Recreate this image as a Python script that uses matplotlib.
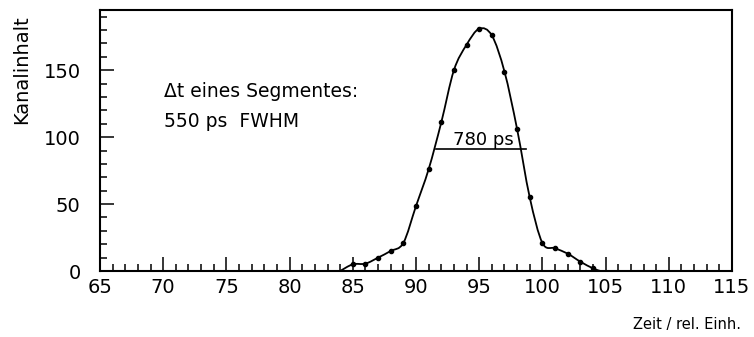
import numpy as np
import matplotlib
matplotlib.use('Agg')
import matplotlib.pyplot as plt
from matplotlib.path import Path
from matplotlib.patches import PathPatch

# Messpunkte (Zeit / Kanalinhalt)
zeit = [85, 86, 87, 88, 89, 90, 91, 92, 93, 94, 95, 96, 97, 98, 99, 100, 101, 102, 103, 104]
inhalt = [5, 5.5, 10, 15, 21, 48.5, 76, 111, 150, 169, 181, 176, 149, 106, 55, 21, 17, 13, 7, 2]

# Anfang und Ende der Kurve auf der Nulllinie
kurve_start = (84.0, 0.0)
kurve_ende = (104.6, 0.0)

# FWHM-Markierung
fwhm_x = [91.6, 98.7]
fwhm_y = 91

plt.rcParams['font.family'] = ['DejaVu Sans']

fig = plt.figure(figsize=(7.54, 3.37), dpi=100)
ax = fig.add_axes([0.1326, 0.1958, 0.9708 - 0.1326, 0.9703 - 0.1958])

# glatte Kurve durch die Punkte (Catmull-Rom als Bezier-Pfad)
px = np.array([kurve_start[0]] + zeit + [kurve_ende[0]])
py = np.array([kurve_start[1]] + inhalt + [kurve_ende[1]])
pts = np.column_stack([px, py])
ext = np.vstack([pts[0], pts, pts[-1]])
verts = [tuple(pts[0])]
codes = [Path.MOVETO]
for i in range(1, len(ext) - 2):
    p0, p1, p2, p3 = ext[i - 1], ext[i], ext[i + 1], ext[i + 2]
    c1 = p1 + (p2 - p0) / 6.0
    c2 = p2 - (p3 - p1) / 6.0
    verts += [tuple(c1), tuple(c2), tuple(p2)]
    codes += [Path.CURVE4] * 3
ax.add_patch(PathPatch(Path(verts, codes), fill=False, lw=1.3, color='black'))

ax.plot(zeit, inhalt, 'o', color='black', ms=3)

ax.plot(fwhm_x, [fwhm_y, fwhm_y], color='black', lw=1.2)
ax.text(95.3, fwhm_y + 0.5, '780 ps', ha='center', va='bottom', fontsize=13)

ax.text(70.1, 133.8, 'Δt eines Segmentes:', ha='left', va='center', fontsize=13.5)
ax.text(70.1, 112, '550 ps  FWHM', ha='left', va='center', fontsize=13.5)

ax.set_xlim(65, 115)
ax.set_ylim(0, 195)
ax.set_xticks(np.arange(65, 116, 5))
ax.set_xticks(np.arange(65, 116, 1), minor=True)
ax.set_yticks([0, 50, 100, 150])
ax.set_yticks(np.arange(0, 191, 10), minor=True)
ax.tick_params(which='both', direction='in', top=False, right=False, width=1.1)
ax.tick_params(which='major', length=10, labelsize=14)
ax.tick_params(which='minor', length=5)
ax.tick_params(axis='x', pad=5)
ax.tick_params(axis='y', pad=14)
for s in ax.spines.values():
    s.set_linewidth(1.5)

fig.text(22 / 754, 1 - 70 / 337, 'Kanalinhalt', rotation=90, ha='center', va='center', fontsize=14)
fig.text(687 / 754, 1 - 324 / 337, 'Zeit / rel. Einh.', ha='center', va='center', fontsize=10.5)

fig.savefig('out.png', dpi=100, facecolor='white')
